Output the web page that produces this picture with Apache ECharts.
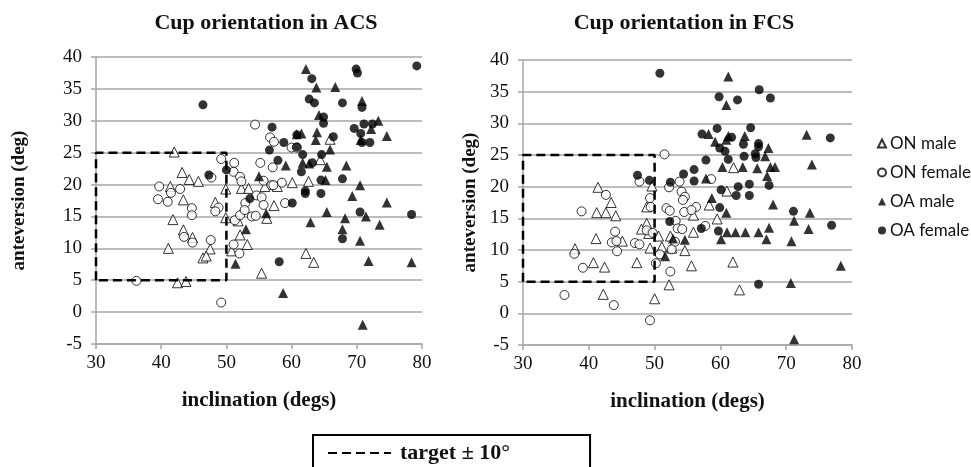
<!DOCTYPE html>
<html>
<head>
<meta charset="utf-8">
<script src="https://cdn.jsdelivr.net/npm/echarts@6/dist/echarts.min.js"></script>
<style>html,body{margin:0;padding:0;background:#fff;}#c{width:971px;height:467px;}</style>
</head>
<body>
<div id="c"></div>
<script>
// ---- ACS (left) data: [inclination, anteversion]
var acsOnMale = [[42.0,25.1],[43.2,21.9],[44.3,20.8],[45.7,20.5],[41.4,19.7],[43.4,17.6],[41.8,14.5],[43.4,12.9],[44.8,11.7],[41.1,10.0],[47.5,9.9],[46.4,8.5],[46.9,8.8],[42.5,4.6],[43.8,4.8],[48.3,17.2],[49.9,19.3],[49.9,14.8],[52.1,12.1],[50.8,9.6],[53.2,10.6],[55.4,6.1],[52.3,19.4],[53.4,19.4],[55.9,19.7],[57.8,19.7],[60.1,20.3],[62.6,20.5],[57.3,16.7],[56.2,14.7],[51.8,14.3],[64.4,23.9],[65.9,27.1],[62.2,9.2],[63.4,7.8]];
var acsOnFemale = [[36.2,4.9],[39.7,19.7],[39.5,17.7],[41.0,17.3],[41.5,18.7],[42.9,19.3],[44.7,16.3],[44.7,15.2],[43.5,11.8],[44.8,10.9],[47.6,11.3],[48.8,16.4],[48.3,15.8],[47.7,21.1],[49.2,24.0],[51.2,23.4],[51.1,22.0],[52.1,21.2],[52.3,20.5],[55.2,23.4],[54.4,29.4],[56.7,27.4],[57.3,26.7],[57.1,22.7],[55.7,20.6],[56.9,19.9],[58.5,20.3],[57.2,19.9],[60.0,25.8],[60.8,25.8],[52.9,17.1],[54.6,18.3],[55.4,18.0],[55.7,16.8],[59.0,17.1],[51.3,14.4],[52.1,15.2],[52.8,16.0],[53.9,15.0],[54.5,15.1],[51.1,10.6],[52.0,9.2],[49.2,1.5]];
var acsOaMale = [[62.2,38.1],[63.8,35.2],[66.7,35.3],[70.8,33.1],[64.2,30.9],[73.3,30.0],[72.2,28.7],[74.6,27.6],[70.6,27.0],[61.5,28.0],[63.9,28.2],[63.7,27.0],[60.8,27.9],[65.9,25.5],[61.7,23.4],[62.7,23.3],[59.1,23.0],[65.4,22.8],[68.4,23.0],[65.2,20.7],[70.5,19.9],[55.0,21.3],[69.3,18.2],[74.6,17.2],[65.4,15.7],[62.9,14.1],[71.4,15.0],[68.2,14.7],[73.5,13.7],[67.8,13.0],[70.5,11.2],[71.8,8.0],[78.4,7.8],[56.1,15.5],[53.0,13.0],[51.4,7.6],[58.7,3.0],[70.9,-2.0]];
var acsOaFemale = [[46.4,32.5],[57.0,29.0],[63.1,36.6],[62.7,33.4],[63.5,32.8],[69.9,38.1],[70.1,37.5],[67.8,32.8],[70.8,32.1],[79.2,38.6],[64.9,30.6],[64.9,29.6],[69.6,28.8],[71.1,29.5],[72.4,29.5],[70.6,28.0],[70.8,26.6],[72.0,26.6],[66.4,27.5],[58.8,26.6],[60.8,27.8],[56.6,25.4],[60.8,25.9],[61.7,24.7],[64.6,24.7],[63.2,23.4],[57.9,23.8],[61.5,22.0],[64.5,20.7],[67.8,20.9],[50.0,22.3],[47.3,21.5],[53.6,17.8],[60.1,17.1],[62.1,19.0],[62.1,18.6],[64.5,18.6],[70.5,15.7],[78.4,15.3],[67.8,11.5],[58.1,7.9]];

// ---- FCS (right) data
var fcsOnMale = [[41.4,19.9],[43.4,17.5],[41.2,15.9],[42.6,15.9],[44.1,15.4],[41.1,11.8],[45.1,11.4],[37.9,10.2],[40.7,8.0],[42.4,7.3],[42.2,3.0],[47.3,8.0],[48.8,16.8],[48.8,14.2],[48.0,13.3],[49.1,12.6],[49.6,20.1],[49.3,10.3],[50.6,12.2],[51.1,10.5],[52.4,12.2],[52.6,10.3],[52.2,4.5],[50.0,2.3],[54.6,9.9],[55.9,12.8],[55.9,15.5],[55.6,7.5],[58.3,17.1],[59.5,14.9],[61.0,19.3],[61.9,8.1],[62.9,3.7],[62.0,23.0]];
var fcsOnFemale = [[36.3,2.9],[37.8,9.4],[39.1,7.2],[38.9,16.1],[42.6,18.7],[44.0,12.9],[43.5,11.2],[44.2,11.4],[44.3,9.8],[43.8,1.3],[47.0,11.1],[47.7,10.9],[47.7,20.8],[49.3,18.2],[49.4,16.8],[48.8,13.1],[49.7,12.7],[49.3,-1.1],[50.2,7.9],[50.8,9.3],[51.5,25.1],[52.2,19.9],[53.8,20.8],[54.1,19.2],[54.6,18.4],[54.3,17.9],[51.8,16.6],[52.3,16.2],[53.2,14.6],[53.5,13.4],[54.2,13.3],[53.1,11.3],[52.6,10.1],[52.4,6.6],[54.5,16.0],[56.3,16.8],[55.6,16.3],[57.7,13.8],[58.6,21.2]];
var fcsOaMale = [[61.2,37.4],[60.9,32.9],[58.2,28.3],[59.2,27.1],[60.9,27.4],[61.2,28.0],[63.7,28.0],[67.3,26.1],[66.8,24.8],[60.3,23.1],[63.4,23.1],[65.6,22.9],[67.6,23.1],[68.3,23.1],[67.1,21.7],[73.1,28.2],[73.9,23.5],[57.8,21.3],[58.7,18.2],[60.9,15.9],[68.0,17.2],[61.0,12.8],[62.3,12.8],[63.8,12.8],[65.8,12.8],[67.4,13.5],[60.1,11.7],[67.0,11.7],[71.2,14.6],[73.6,15.9],[73.4,13.3],[70.8,11.4],[54.6,11.6],[51.6,9.0],[52.8,11.8],[70.7,4.8],[78.3,7.5],[71.2,-4.1]];
var fcsOaFemale = [[50.8,37.9],[59.8,34.2],[62.6,33.7],[65.9,35.3],[67.6,34.0],[59.5,29.2],[64.6,29.3],[57.2,28.3],[61.7,27.8],[59.9,26.1],[60.7,25.6],[61.2,24.3],[63.5,26.7],[65.8,26.8],[65.8,26.3],[63.6,24.8],[65.3,25.2],[65.4,24.6],[57.8,24.2],[56.0,22.7],[56.0,20.9],[54.4,22.0],[52.4,20.7],[47.4,21.8],[49.2,21.0],[60.1,19.5],[62.7,20.0],[64.4,20.4],[62.4,18.6],[64.4,18.6],[67.4,20.2],[59.9,16.7],[57.1,13.4],[59.7,13.0],[52.3,14.5],[71.1,16.1],[76.7,27.7],[76.9,13.9],[65.8,4.6]];

// target zone: inclination 40 ± 10, anteversion 15 ± 10
var targetInclination = [30, 50];
var targetAnteversion = [5, 25];

var titles = ['Cup orientation in ACS', 'Cup orientation in FCS'];
var seriesNames = ['ON male', 'ON female', 'OA male', 'OA female'];
var targetName = 'target \u00b1 10\u00b0';
var xName = 'inclination (degs)';
var yName = 'anteversion (deg)';

function boxPath() {
  var a = targetInclination, b = targetAnteversion;
  return [[a[0], b[0]], [a[0], b[1]], [a[1], b[1]], [a[1], b[0]], [a[0], b[0]]];
}

var serif = 'Liberation Serif';
var gridColor = '#a6a6a6';

function xAxisCfg(idx) {
  return {
    gridIndex: idx, type: 'value', min: 30, max: 80, interval: 10,
    name: xName, nameLocation: 'middle', nameGap: 46,
    nameTextStyle: { fontFamily: serif, fontWeight: 'bold', fontSize: 21, color: '#111' },
    axisLine: { show: true, onZero: false, lineStyle: { color: gridColor, width: 1.5 } },
    axisTick: { show: true, length: 5, lineStyle: { color: gridColor, width: 1.5 } },
    axisLabel: { fontFamily: serif, fontSize: 19, color: '#111', margin: 10 },
    splitLine: { show: false }
  };
}
function yAxisCfg(idx, gap) {
  return {
    gridIndex: idx, type: 'value', min: -5, max: 40, interval: 5,
    name: yName, nameLocation: 'middle', nameGap: gap,
    nameTextStyle: { fontFamily: serif, fontWeight: 'bold', fontSize: 19, color: '#111' },
    axisLine: { show: true, lineStyle: { color: gridColor, width: 1.5 } },
    axisTick: { show: true, length: 5, lineStyle: { color: gridColor, width: 1.5 } },
    axisLabel: { fontFamily: serif, fontSize: 19, color: '#111', margin: 14 },
    splitLine: { show: true, lineStyle: { color: gridColor, width: 1.5 } }
  };
}

var openStyle = { color: '#fff', borderColor: '#000', borderWidth: 1 };
var fillStyle = { color: '#000', borderColor: '#000', borderWidth: 0 };

function scatter(name, data, idx, sym, open) {
  return {
    name: name, type: 'scatter', xAxisIndex: idx, yAxisIndex: idx, data: data,
    symbol: sym, symbolSize: sym === 'triangle' ? 10 : 9,
    itemStyle: open ? openStyle : fillStyle, z: open ? 3 : 4,
    emphasis: { disabled: true }
  };
}
function targetSeries(idx) {
  return {
    name: targetName, type: 'line', xAxisIndex: idx, yAxisIndex: idx, data: boxPath(),
    symbol: 'none', silent: true, z: 5,
    itemStyle: { color: '#000' },
    lineStyle: { color: '#000', width: 2.5, type: [9, 5] }
  };
}

var chart = echarts.init(document.getElementById('c'), null, { renderer: 'canvas' });
chart.setOption({
  animation: false,
  backgroundColor: '#fff',
  title: [
    { text: titles[0], left: 261, top: 7, textAlign: 'center', textStyle: { fontFamily: serif, fontWeight: 'bold', fontSize: 22, color: '#111' } },
    { text: titles[1], left: 679, top: 7, textAlign: 'center', textStyle: { fontFamily: serif, fontWeight: 'bold', fontSize: 22, color: '#111' } }
  ],
  grid: [
    { left: 96, top: 57, width: 326, height: 287 },
    { left: 523, top: 60, width: 329, height: 285 }
  ],
  xAxis: [xAxisCfg(0), xAxisCfg(1)],
  yAxis: [yAxisCfg(0, 67), yAxisCfg(1, 43)],
  legend: [
    {
      data: seriesNames, orient: 'vertical', left: 872, top: 130, itemGap: 12,
      itemWidth: 8, itemHeight: 8, selectedMode: false,
      textStyle: { fontFamily: 'Lato', fontSize: 17, color: '#111', padding: [0, 0, 0, -1] }
    },
    {
      data: [targetName], left: 313, top: 435, selectedMode: false,
      itemWidth: 63, itemHeight: 10, itemGap: 0,
      itemStyle: { opacity: 0 },
      borderColor: '#000', borderWidth: 2, padding: [7, 80, 20, 14],
      textStyle: { fontFamily: serif, fontWeight: 'bold', fontSize: 22, color: '#111', padding: [0, 0, 0, 4] }
    }
  ],
  series: [
    scatter(seriesNames[0], acsOnMale, 0, 'triangle', true),
    scatter(seriesNames[1], acsOnFemale, 0, 'circle', true),
    scatter(seriesNames[2], acsOaMale, 0, 'triangle', false),
    scatter(seriesNames[3], acsOaFemale, 0, 'circle', false),
    targetSeries(0),
    scatter(seriesNames[0], fcsOnMale, 1, 'triangle', true),
    scatter(seriesNames[1], fcsOnFemale, 1, 'circle', true),
    scatter(seriesNames[2], fcsOaMale, 1, 'triangle', false),
    scatter(seriesNames[3], fcsOaFemale, 1, 'circle', false),
    targetSeries(1)
  ]
});
</script>
</body>
</html>
